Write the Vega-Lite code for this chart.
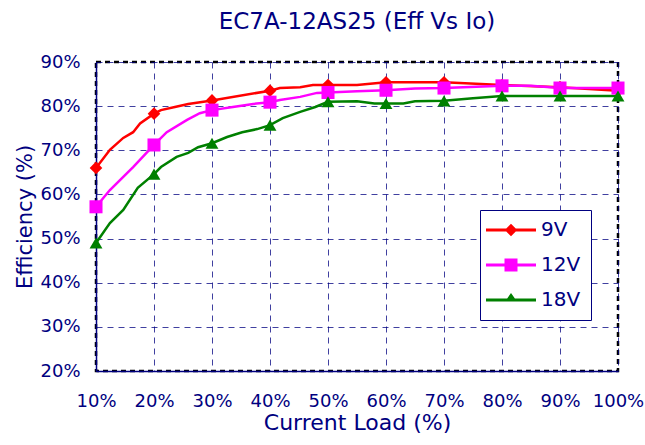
{
  "$schema": "https://vega.github.io/schema/vega-lite/v6.json",
  "width": 522,
  "height": 309,
  "padding": {"left": 14, "top": 11, "right": 5, "bottom": 5},
  "background": "white",
  "title": {"text": "EC7A-12AS25 (Eff Vs Io)", "font": "DejaVu Sans", "fontSize": 23, "fontWeight": "normal", "color": "#000080", "offset": 19},
  "config": {
    "font": "DejaVu Sans",
    "view": {"stroke": "black", "strokeDash": [5, 4], "strokeWidth": 2.5}
  },
  "data": {"values": [
    {"s": "9V", "load": 10, "eff": 66.0},
    {"s": "9V", "load": 12.4, "eff": 70.1},
    {"s": "9V", "load": 14.7, "eff": 72.8},
    {"s": "9V", "load": 16.4, "eff": 74.1},
    {"s": "9V", "load": 17.6, "eff": 76.1},
    {"s": "9V", "load": 20, "eff": 78.3},
    {"s": "9V", "load": 21.2, "eff": 79.1},
    {"s": "9V", "load": 23.6, "eff": 79.8},
    {"s": "9V", "load": 25.9, "eff": 80.5},
    {"s": "9V", "load": 30, "eff": 81.3},
    {"s": "9V", "load": 40, "eff": 83.5},
    {"s": "9V", "load": 41.7, "eff": 84.1},
    {"s": "9V", "load": 45.2, "eff": 84.3},
    {"s": "9V", "load": 47.4, "eff": 84.8},
    {"s": "9V", "load": 50, "eff": 84.8},
    {"s": "9V", "load": 55, "eff": 84.8},
    {"s": "9V", "load": 60, "eff": 85.4},
    {"s": "9V", "load": 70, "eff": 85.4},
    {"s": "9V", "load": 80, "eff": 84.8},
    {"s": "9V", "load": 90, "eff": 84.3},
    {"s": "9V", "load": 100, "eff": 83.5},
    {"s": "12V", "load": 10, "eff": 57.2},
    {"s": "12V", "load": 12.4, "eff": 61.0},
    {"s": "12V", "load": 16.4, "eff": 66.2},
    {"s": "12V", "load": 20, "eff": 71.2},
    {"s": "12V", "load": 22.2, "eff": 74.1},
    {"s": "12V", "load": 25.7, "eff": 76.9},
    {"s": "12V", "load": 27.9, "eff": 78.4},
    {"s": "12V", "load": 30, "eff": 79.1},
    {"s": "12V", "load": 33.6, "eff": 79.8},
    {"s": "12V", "load": 37.1, "eff": 80.5},
    {"s": "12V", "load": 40, "eff": 80.9},
    {"s": "12V", "load": 41.7, "eff": 81.4},
    {"s": "12V", "load": 45.2, "eff": 82.1},
    {"s": "12V", "load": 48.1, "eff": 83.0},
    {"s": "12V", "load": 50, "eff": 83.1},
    {"s": "12V", "load": 55, "eff": 83.4},
    {"s": "12V", "load": 60, "eff": 83.6},
    {"s": "12V", "load": 65, "eff": 84.0},
    {"s": "12V", "load": 70, "eff": 84.1},
    {"s": "12V", "load": 80, "eff": 84.6},
    {"s": "12V", "load": 85, "eff": 84.6},
    {"s": "12V", "load": 90, "eff": 84.1},
    {"s": "12V", "load": 100, "eff": 84.1},
    {"s": "18V", "load": 10, "eff": 49.0},
    {"s": "18V", "load": 12.4, "eff": 53.5},
    {"s": "18V", "load": 14.7, "eff": 56.5},
    {"s": "18V", "load": 17.2, "eff": 61.5},
    {"s": "18V", "load": 20, "eff": 64.6},
    {"s": "18V", "load": 21.2, "eff": 66.2},
    {"s": "18V", "load": 23.9, "eff": 68.5},
    {"s": "18V", "load": 25.9, "eff": 69.4},
    {"s": "18V", "load": 27.6, "eff": 70.7},
    {"s": "18V", "load": 30, "eff": 71.6},
    {"s": "18V", "load": 32.6, "eff": 73.0},
    {"s": "18V", "load": 35.2, "eff": 74.1},
    {"s": "18V", "load": 37.8, "eff": 74.8},
    {"s": "18V", "load": 40, "eff": 75.7},
    {"s": "18V", "load": 42.2, "eff": 77.3},
    {"s": "18V", "load": 45.2, "eff": 78.7},
    {"s": "18V", "load": 47.8, "eff": 79.8},
    {"s": "18V", "load": 50, "eff": 81.0},
    {"s": "18V", "load": 55, "eff": 81.1},
    {"s": "18V", "load": 58, "eff": 80.6},
    {"s": "18V", "load": 60, "eff": 80.6},
    {"s": "18V", "load": 63, "eff": 80.6},
    {"s": "18V", "load": 65, "eff": 81.1},
    {"s": "18V", "load": 70, "eff": 81.2},
    {"s": "18V", "load": 75, "eff": 81.8},
    {"s": "18V", "load": 80, "eff": 82.3},
    {"s": "18V", "load": 90, "eff": 82.3},
    {"s": "18V", "load": 100, "eff": 82.3}
  ]},
  "encoding": {
    "x": {
      "field": "load", "type": "quantitative",
      "scale": {"domain": [10, 100], "nice": false, "zero": false},
      "axis": {
        "title": "Current Load (%)", "values": [10, 20, 30, 40, 50, 60, 70, 80, 90, 100],
        "labelExpr": "datum.value + '%'", "grid": true, "ticks": false, "labelFlush": false, "labelOverlap": false,
        "gridColor": "#000080", "gridOpacity": 0.75, "gridDash": [6, 5], "gridWidth": 1,
        "domainColor": "#000080", "domainWidth": 1.5,
        "labelColor": "#000080", "labelFontSize": 18, "labelPadding": 21, "labelFont": "DejaVu Sans",
        "titleColor": "#000080", "titleFontSize": 22, "titleFontWeight": "normal", "titlePadding": 2, "titleFont": "DejaVu Sans"
      }
    },
    "y": {
      "field": "eff", "type": "quantitative",
      "scale": {"domain": [20, 90], "nice": false, "zero": false},
      "axis": {
        "title": "Efficiency (%)", "values": [20, 30, 40, 50, 60, 70, 80, 90],
        "labelExpr": "datum.value + '%'", "grid": true, "ticks": false, "labelFlush": false,
        "gridColor": "#000080", "gridOpacity": 0.75, "gridDash": [6, 5], "gridWidth": 1,
        "domainColor": "#000080", "domainWidth": 1.5,
        "labelColor": "#000080", "labelFontSize": 18, "labelPadding": 16, "labelFont": "DejaVu Sans",
        "titleColor": "#000080", "titleFontSize": 21, "titleFontWeight": "normal", "titlePadding": 4, "titleFont": "DejaVu Sans"
      }
    },
    "color": {
      "field": "s", "type": "nominal",
      "scale": {"domain": ["9V", "12V", "18V"], "range": ["#ff0000", "#ff00ff", "#008000"]},
      "legend": {
        "title": null, "orient": "none", "legendX": 384, "legendY": 148,
        "strokeColor": "#000080", "fillColor": "white", "padding": 10,
        "symbolSize": 100, "symbolOffset": 11, "labelOffset": 20,
        "labelColor": "#000080", "labelFontSize": 20, "labelFont": "DejaVu Sans", "rowPadding": 15,
        "encode": {
          "symbols": {
            "update": {
              "shape": {"signal": "datum.value === '9V' ? 'M-5,-0.28L5,-0.28L5,0.28L-5,0.28Z M0,-1.25L1.25,0L0,1.25L-1.25,0Z' : datum.value === '12V' ? 'M-5,-0.28L5,-0.28L5,0.28L-5,0.28Z M-1.3,-1.3L1.3,-1.3L1.3,1.3L-1.3,1.3Z' : 'M-5,-0.28L5,-0.28L5,0.28L-5,0.28Z M0,-1.4L1.2,0.28L-1.2,0.28Z'"},
              "fillOpacity": {"value": 1},
              "strokeWidth": {"value": 0},
              "opacity": {"value": 1}
            }
          }
        }
      }
    }
  },
  "layer": [
    {"mark": {"type": "line", "strokeWidth": 2.5}},
    {
      "transform": [{"filter": "datum.load % 10 == 0"}],
      "mark": {"type": "point", "filled": true, "opacity": 1},
      "encoding": {
        "shape": {"field": "s", "type": "nominal", "scale": {"domain": ["18V", "12V", "9V"], "range": ["triangle-up", "square", "diamond"]}, "legend": null},
        "size": {"field": "s", "type": "nominal", "scale": {"domain": ["12V", "18V", "9V"], "range": [170, 160, 130]}, "legend": null}
      }
    }
  ]
}
